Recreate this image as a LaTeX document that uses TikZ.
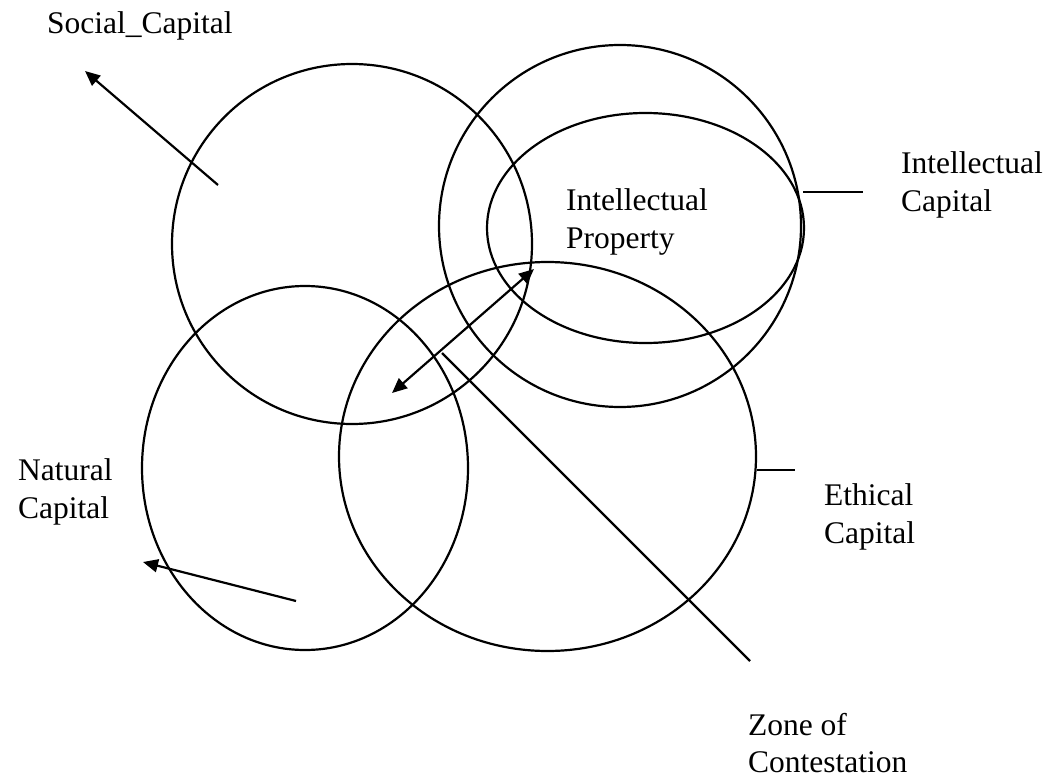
\documentclass[tikz,border=0pt]{standalone}
\usepackage{fontspec}
\setmainfont{Liberation Serif}
\usetikzlibrary{arrows.meta}

\begin{document}
\begin{tikzpicture}[x=1pt, y=-1pt, line width=2.2pt,
  tag/.style={anchor=base west, inner sep=0pt, align=left,
    font=\fontsize{31.5}{37.5}\selectfont},
  tip/.style={-{Triangle[length=15pt, width=13pt]}},
  twotip/.style={{Triangle[length=15pt, width=13pt]}-{Triangle[length=15pt, width=13pt]}}]

\useasboundingbox (0, 0) rectangle (1050, 779);

\coordinate (social) at (352, 244);
\coordinate (intcap) at (620, 226);
\coordinate (intprop) at (645.5, 228);
\coordinate (natural) at (305, 468);
\coordinate (ethical) at (547.5, 456.5);

\draw (social) circle [radius=180];
\draw (intcap) circle [radius=181];
\draw (intprop) ellipse [x radius=158.5, y radius=115];
\draw (natural) ellipse [x radius=163, y radius=182];
\draw (ethical) ellipse [x radius=208.5, y radius=194.5];

% base anchor sits on the last line
\node [tag] (soclabel) at (46, 33) {Social\_Capital};
\node [tag] (iplabel) at (565, 248) {Intellectual\\Property};
\node [tag] (iclabel) at (900, 211) {Intellectual\\Capital};
\node [tag] (ethlabel) at (823, 543) {Ethical\\Capital};
\node [tag] (natlabel) at (17, 518) {Natural\\Capital};
\node [tag] (zonelabel) at (747, 772.5) {Zone of\\Contestation};

\coordinate (soctail) at (218, 185);
\coordinate (soctip) at (85, 71);
\coordinate (nattail) at (296, 601);
\coordinate (nattip) at (143, 562);
\coordinate (zonelow) at (392, 393);
\coordinate (zonehigh) at (534, 269);
\coordinate (zonestart) at (442, 353);
\coordinate (zoneend) at (750, 661);
\coordinate (icstart) at (803, 192);
\coordinate (icend) at (863, 192);
\coordinate (ethstart) at (757, 470);
\coordinate (ethend) at (795, 470);

\draw[tip] (soctail) -- (soctip);
\draw[tip] (nattail) -- (nattip);
\draw[twotip] (zonelow) -- (zonehigh);
\draw[-] (zonestart) -- (zoneend);
\draw[-] (icstart) -- (icend);
\draw[-] (ethstart) -- (ethend);

\end{tikzpicture}
\end{document}
